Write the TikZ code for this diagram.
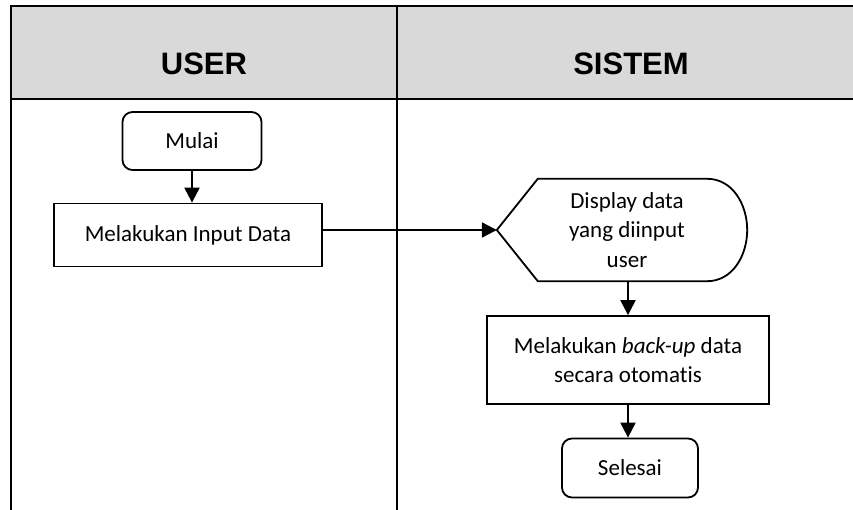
\documentclass[tikz,border=0pt]{standalone}
\usepackage{fontspec}
\setmainfont{Carlito}[Ligatures=NoCommon]
\newfontfamily\headfont{Liberation Sans}
\usetikzlibrary{arrows.meta}
\definecolor{kopf}{HTML}{D9D9D9}

\begin{document}
\begin{tikzpicture}[x=1pt,y=-1pt,
		lane/.style={line width=2.5pt},
		kopftext/.style={font=\headfont\fontsize{31}{36}\selectfont\bfseries},
		box/.style={draw, line width=1.8pt, align=center, font=\fontsize{23}{29}\selectfont},
		terminal/.style={box, rounded corners=10pt},
		pfeil/.style={line width=2.2pt, -{Triangle[length=15pt,width=15pt]}}]
		\useasboundingbox (0,0) rectangle (853,510);

		% Tabelle
		\fill[kopf] (11,6) rectangle (870,99);
		\draw[lane] (870,6) -- (11,6) -- (11,520);
		\draw[lane] (11,99) -- (870,99);
		\draw[lane] (397,6) -- (397,520);
		\node[kopftext] (user) at (204,64) {USER};
		\node[kopftext] (sistem) at (631,64) {SISTEM};

		% Knoten
		\node[terminal, minimum width=139pt, minimum height=58pt] (mulai) at (192,141) {Mulai};
		\node[box, minimum width=268pt, minimum height=63pt] (input) at (188,235) {Melakukan Input Data};
		\node[align=center, font=\fontsize{23}{29.5}\selectfont, minimum width=250pt, minimum height=102pt, inner sep=0pt] (disp) at (622,230) {\hspace*{10pt}Display data\\\hspace*{10pt}yang diinput\\\hspace*{10pt}user};
		\node[box, minimum width=282pt, minimum height=88pt] (backup) at (628,360) {Melakukan \textit{back-up} data\\secara otomatis};
		\node[terminal, minimum width=136pt, minimum height=59pt] (selesai) at (630,468) {Selesai};

		% Display
		\draw[line width=1.8pt] (disp.west) -- ([xshift=41pt]disp.north west) -- ([xshift=-40pt]disp.north east)
			to[out=0,in=90] (disp.east) to[out=-90,in=0] ([xshift=-40pt]disp.south east)
			-- ([xshift=41pt]disp.south west) -- cycle;

		% Pfeile
		\draw[pfeil] (mulai.south) -- (mulai.south |- input.north);
		\draw[pfeil] (input.east |- disp.west) -- (disp.west);
		\draw[pfeil] (disp.south -| backup.north) -- (backup.north);
		\draw[pfeil] (backup.south) -- (backup.south |- selesai.north);
	\end{tikzpicture}
\end{document}
